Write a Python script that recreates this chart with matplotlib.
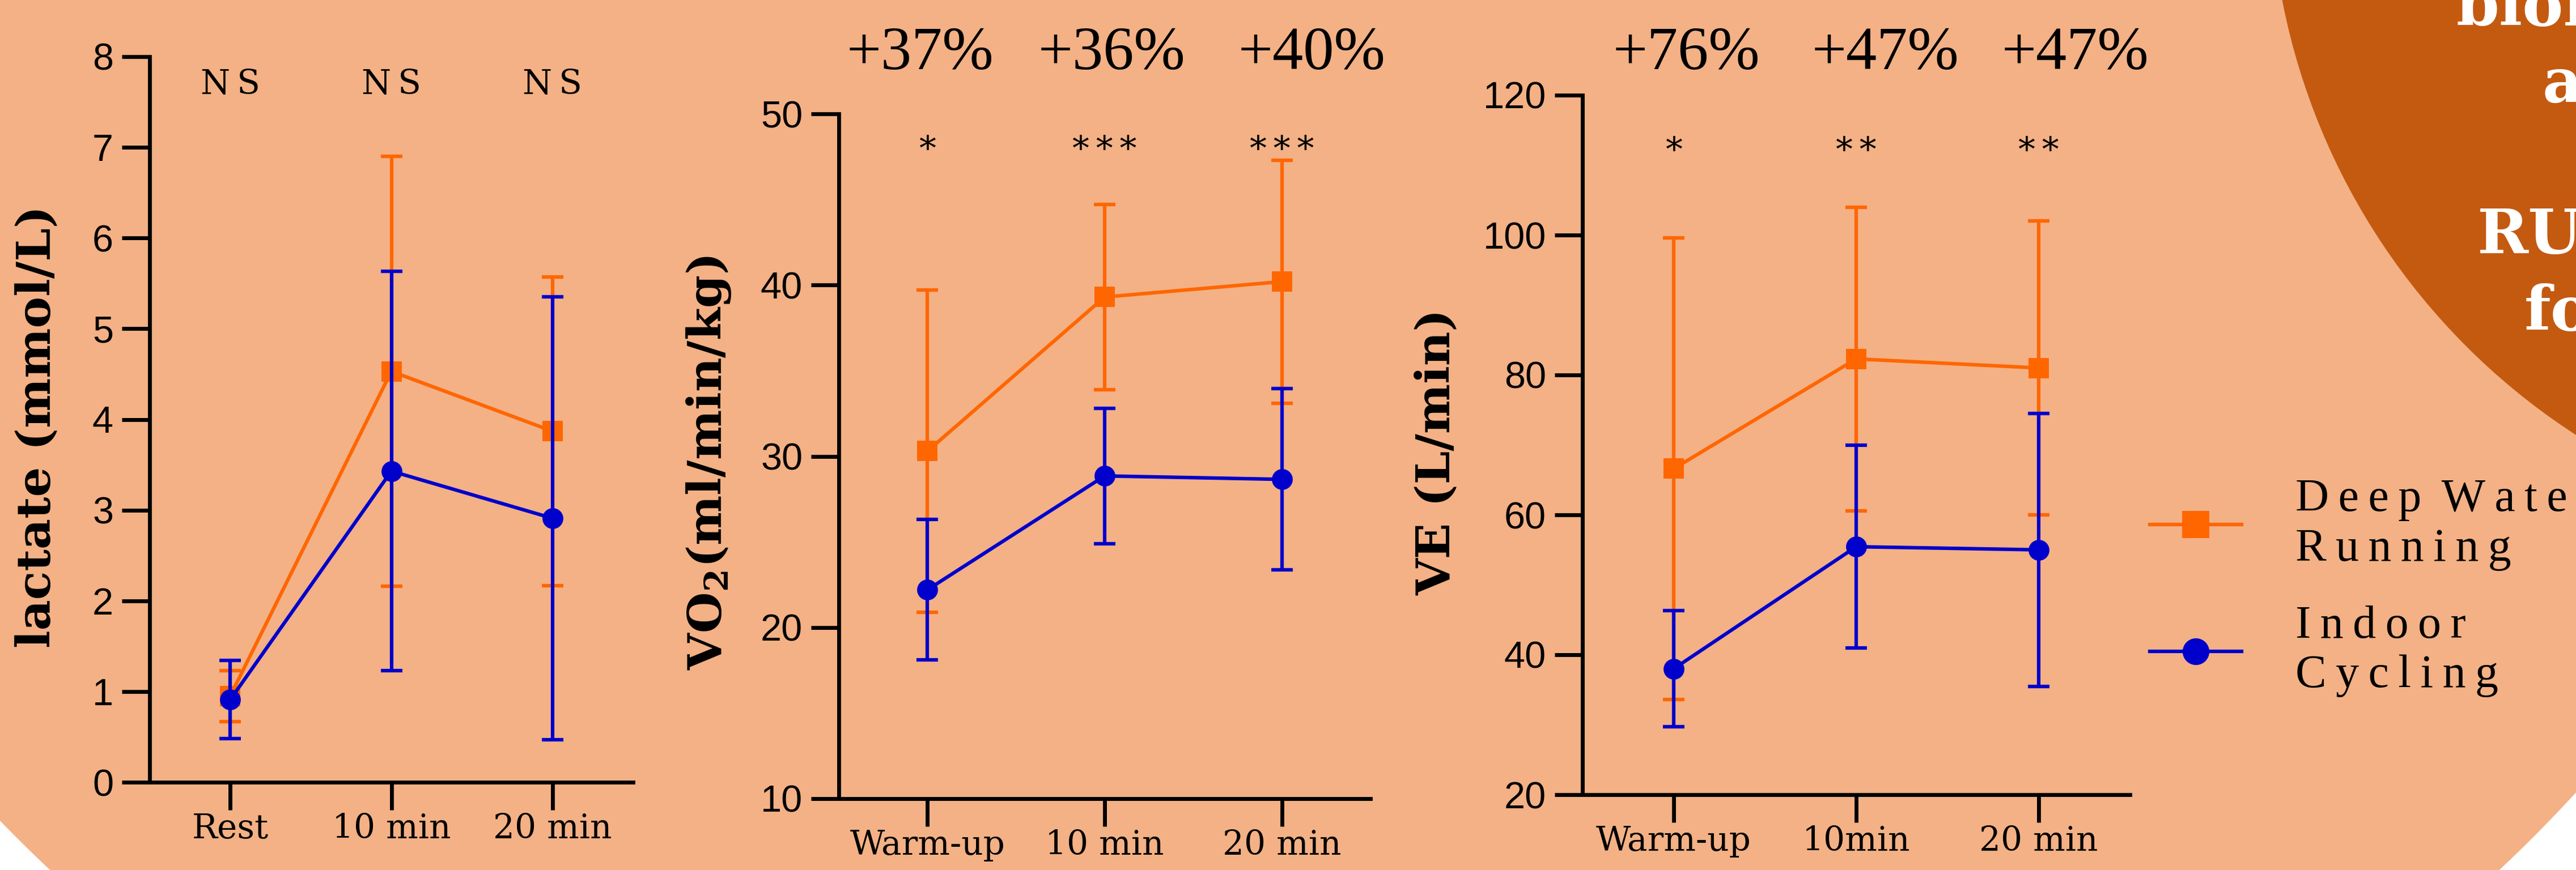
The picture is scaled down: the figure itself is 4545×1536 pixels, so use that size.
import numpy as np
import matplotlib
matplotlib.use('Agg')
import matplotlib.pyplot as plt
from matplotlib.patches import Ellipse
from matplotlib.lines import Line2D

# --- data ---
lac_times = ['Rest', '10 min', '20 min']
lac_dwr = [0.95, 4.53, 3.87]
lac_dwr_sd = [0.28, 2.37, 1.70]
lac_ic = [0.91, 3.43, 2.91]
lac_ic_sd = [0.43, 2.20, 2.44]
lac_sig = ['NS', 'NS', 'NS']

vo2_times = ['Warm-up', '10 min', '20 min']
vo2_dwr = [30.3, 39.3, 40.2]
vo2_dwr_sd = [9.4, 5.4, 7.1]
vo2_ic = [22.2, 28.85, 28.65]
vo2_ic_sd = [4.1, 3.95, 5.3]
vo2_sig = ['*', '***', '***']
vo2_pct = ['+37%', '+36%', '+40%']

ve_times = ['Warm-up', '10min', '20 min']
ve_dwr = [66.6, 82.3, 81.0]
ve_dwr_sd = [33.0, 21.7, 21.0]
ve_ic = [38.0, 55.45, 55.0]
ve_ic_sd = [8.3, 14.5, 19.5]
ve_sig = ['*', '**', '**']
ve_pct = ['+76%', '+47%', '+47%']

ORANGE = '#ff6600'
BLUE = '#0000cc'
PEACH = '#f3b185'
RUST = '#c45a10'

W, H = 4545, 1536
plt.rcParams['font.family'] = ['Liberation Sans', 'DejaVu Sans']
plt.rcParams['mathtext.fontset'] = 'dejavuserif'

fig = plt.figure(figsize=(W / 100, H / 100), dpi=100, facecolor='white')


def fx(x):
    return x / W


def fy(y):
    return 1 - y / H


def spaced(s):
    # letter-spaced look of the original
    return '\n'.join('\u2009 '.join('\u2009'.join(w) for w in line.split(' ')) for line in s.split('\n'))


# background shapes
fig.add_artist(Ellipse((fx(2249), 1.0), 2 * 2865 / W, 2 * 2339 / H, transform=fig.transFigure,
                       facecolor=PEACH, edgecolor='none', zorder=-3))
fig.add_artist(Ellipse((fx(5188), fy(-225)), 2 * 1183 / W, 2 * 1183 / H, transform=fig.transFigure,
                       facecolor=RUST, edgecolor='none', zorder=-2))


def panel(box, cats, dwr, dwr_sd, ic, ic_sd, ylim, yticks, ylabel, label_x, sig, sig_y):
    left, top, right, bottom = box
    ax = fig.add_axes([fx(left), fy(bottom), fx(right) - fx(left), (bottom - top) / H])
    ax.patch.set_visible(False)
    x = np.arange(len(cats))
    for mean, sd, col, mk in [(dwr, dwr_sd, ORANGE, 's'), (ic, ic_sd, BLUE, 'o')]:
        ax.errorbar(x, mean, yerr=sd, fmt='none', ecolor=col, elinewidth=4.5,
                    capsize=13.7, capthick=4.5, clip_on=False)
        ax.plot(x, mean, color=col, lw=4.5, marker=mk, ms=26.5, mew=0, clip_on=False)
    ax.set_xlim(-0.5, 2.5)
    ax.set_ylim(ylim)
    ax.set_yticks(yticks)
    ax.set_xticks(x, cats, fontfamily='DejaVu Serif', fontsize=43)
    for lab in ax.get_yticklabels():
        lab.set_fontsize(48)
    ax.tick_params(axis='both', length=35, width=5, direction='out', color='black')
    ax.tick_params(axis='y', pad=11)
    ax.tick_params(axis='x', pad=3)
    for s in ['top', 'right']:
        ax.spines[s].set_visible(False)
    for s in ['left', 'bottom']:
        ax.spines[s].set_linewidth(5)
    ax.set_ylabel(ylabel, fontfamily='DejaVu Serif', fontweight='bold', fontsize=60)
    ax.yaxis.set_label_coords(label_x, 0.49)
    for i, s in enumerate(sig):
        ax.text(x[i], sig_y, spaced(s), ha='center', va='baseline', fontfamily='DejaVu Serif',
                fontsize=43, clip_on=False)
    return ax


ax1 = panel((264, 100, 1117, 1381), lac_times, lac_dwr, lac_dwr_sd, lac_ic, lac_ic_sd,
            (0, 8), np.arange(0, 9, 1), 'lactate (mmol/L)', -0.186, lac_sig, 7.59)
ax2 = panel((1480, 201, 2418, 1410), vo2_times, vo2_dwr, vo2_dwr_sd, vo2_ic, vo2_ic_sd,
            (10, 50), np.arange(10, 51, 10), r'VO$_\mathbf{2}$(ml/min/kg)', -0.199, vo2_sig, 47.3)
ax3 = panel((2792, 168, 3758, 1403), ve_times, ve_dwr, ve_dwr_sd, ve_ic, ve_ic_sd,
            (20, 120), np.arange(20, 121, 20), 'VE (L/min)', -0.225, ve_sig, 110.5)

# percentage differences above the panels
vo2_nudge = [-0.04, 0.04, 0.17]
ve_nudge = [0.07, 0.16, 0.20]
for i, p in enumerate(vo2_pct):
    ax2.text(i + vo2_nudge[i], 52.6, p, ha='center', va='baseline', fontfamily='Liberation Serif',
             fontsize=78, clip_on=False)
for i, p in enumerate(ve_pct):
    ax3.text(i + ve_nudge[i], 123.7, p, ha='center', va='baseline', fontfamily='Liberation Serif',
             fontsize=78, clip_on=False)

# legend
handles = [Line2D([], [], color=ORANGE, lw=4.5, marker='s', ms=34, mew=0),
           Line2D([], [], color=BLUE, lw=4.5, marker='o', ms=34, mew=0)]
labels = [spaced('Deep Water\nRunning'), spaced('Indoor\nCycling')]
fig.legend(handles, labels, loc='upper left', bbox_to_anchor=(fx(3793), fy(845)), frameon=False,
           prop={'family': 'Liberation Serif', 'size': 59}, borderpad=0, borderaxespad=0,
           handlelength=1.98, handletextpad=1.16, labelspacing=0.75)

# white title fragments inside the rust circle (cut by the image edge)
for txt, x0, yb in [('biom', 4334, 45), ('a', 4486, 180), ('RU', 4371, 447), ('fo', 4454, 583)]:
    fig.text(fx(x0), fy(yb), txt, color='white', fontfamily='DejaVu Serif', fontweight='bold',
             fontsize=78, ha='left', va='baseline')

fig.savefig('out.png', dpi=100, facecolor='white')
